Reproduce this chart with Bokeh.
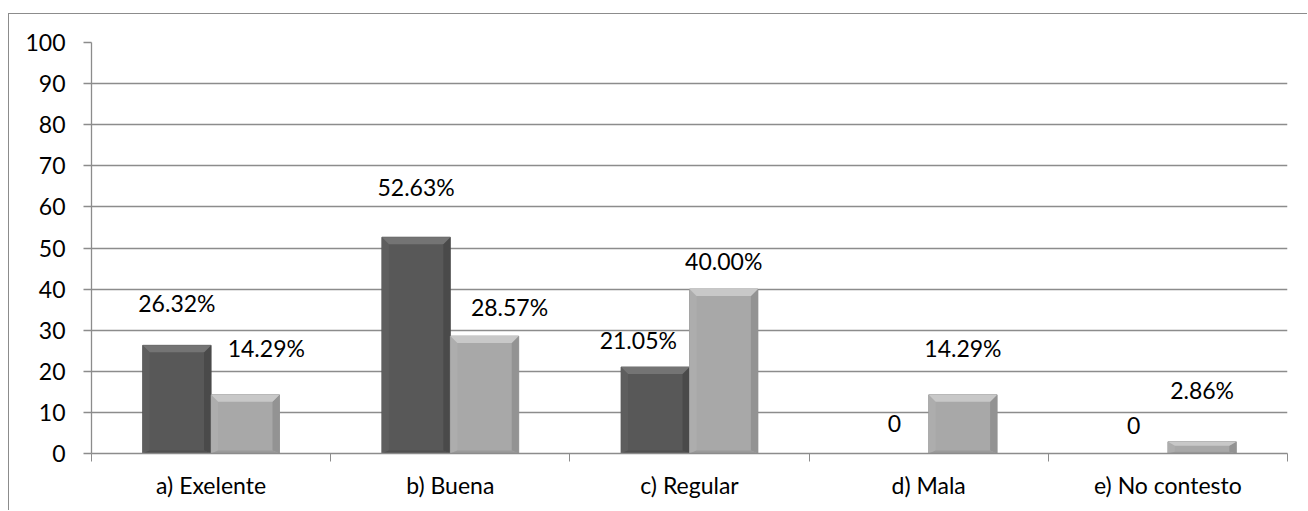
from bokeh.plotting import figure
from bokeh.models import FixedTicker, Range1d, ColumnDataSource
from bokeh.core.properties import value
from bokeh.embed import file_html
from bokeh.resources import INLINE

# ---------------- data ----------------
categories = ["a) Exelente", "b) Buena", "c) Regular", "d) Mala", "e) No contesto"]
serie_oscura = [26.32, 52.63, 21.05, 0, 0]
serie_clara = [14.29, 28.57, 40.00, 14.29, 2.86]
etiquetas_oscura = ["26.32%", "52.63%", "21.05%", "0", "0"]
etiquetas_clara = ["14.29%", "28.57%", "40.00%", "14.29%", "2.86%"]
y_ticks = list(range(0, 101, 10))

# ---------------- label offsets (pixels, style only) ----------------
dx_oscura = [0, 0, -17, 0, 0]
dy_oscura = [42, 50, 27, 30, 28]
dx_clara = [21, 25, 0, 0, 0]
dy_clara = [47, 29, 28, 47, 52]

FONT = "Lato"
FS = "23px"
GRID = "#8c8c8c"

n = len(categories)
centers = [i + 0.5 for i in range(n)]
bar_w = 0.286

p = figure(width=1299, height=497, x_range=Range1d(0, n), y_range=Range1d(0, 100),
           output_backend="svg", toolbar_location=None,
           min_border_left=82, min_border_right=21, min_border_top=28, min_border_bottom=58,
           outline_line_color=None, background_fill_color="white", border_fill_color="white")
p.styles = {"border-left": "1px solid #8c8c8c", "border-top": "1px solid #8c8c8c",
            "margin-top": "13px", "margin-left": "8px"}

# axes
p.xaxis.ticker = FixedTicker(ticks=centers, minor_ticks=list(range(n + 1)))
p.xaxis.major_label_overrides = {c: lab for c, lab in zip(centers, categories)}
p.xaxis.major_tick_line_color = None
p.xaxis.minor_tick_in = 0
p.xaxis.minor_tick_out = 8
p.xaxis.minor_tick_line_color = GRID
p.xaxis.axis_line_color = GRID
p.xaxis.axis_line_width = 1.3
p.xaxis.major_label_standoff = 9
p.xaxis.major_label_text_font = FONT
p.xaxis.major_label_text_font_size = FS
p.xaxis.major_label_text_color = "black"
p.xgrid.grid_line_color = None

p.yaxis.ticker = FixedTicker(ticks=y_ticks, minor_ticks=[])
p.yaxis.major_tick_in = 0
p.yaxis.major_tick_out = 8
p.yaxis.major_tick_line_color = GRID
p.yaxis.major_tick_line_width = 1.3
p.yaxis.axis_line_color = GRID
p.yaxis.axis_line_width = 1.3
p.yaxis.major_label_standoff = 18
p.yaxis.major_label_text_font = FONT
p.yaxis.major_label_text_font_size = FS
p.yaxis.major_label_text_color = "black"
p.ygrid.ticker = FixedTicker(ticks=y_ticks, minor_ticks=[])
p.ygrid.grid_line_color = GRID
p.ygrid.grid_line_width = 1.3

# bevel sizes in data units (approx 7px)
px_x = 1196 / n
px_y = 411 / 100.0
bx = 7 / px_x
by = 7 / px_y
bb = 3 / px_y


def draw_bars(xs, tops, body, top_c, left_c, right_c, bottom_c, edge):
    xs_f, tops_f = [], []
    for x, t in zip(xs, tops):
        if t > 0:
            xs_f.append(x)
            tops_f.append(t)
    p.vbar(x=xs_f, top=tops_f, width=bar_w, bottom=0, fill_color=body,
           line_color=edge, line_width=0.8)
    T, L, R, B = ([], []), ([], []), ([], []), ([], [])
    for x, t in zip(xs_f, tops_f):
        x0, x1 = x - bar_w / 2, x + bar_w / 2
        h = min(by, t * 0.35)
        hb = min(bb, t * 0.15)
        T[0].append([x0, x1, x1 - bx, x0 + bx]); T[1].append([t, t, t - h, t - h])
        L[0].append([x0, x0 + bx, x0 + bx, x0]); L[1].append([t, t - h, hb, 0])
        R[0].append([x1, x1 - bx, x1 - bx, x1]); R[1].append([t, t - h, hb, 0])
        B[0].append([x0, x1, x1 - bx, x0 + bx]); B[1].append([0, 0, hb, hb])
    p.patches(xs=L[0], ys=L[1], fill_color=left_c, line_color=None)
    p.patches(xs=R[0], ys=R[1], fill_color=right_c, line_color=None)
    p.patches(xs=B[0], ys=B[1], fill_color=bottom_c, line_color=None)
    p.patches(xs=T[0], ys=T[1], fill_color=top_c, line_color=None)


x_osc = [c - bar_w / 2 for c in centers]
x_cla = [c + bar_w / 2 for c in centers]

draw_bars(x_osc, serie_oscura, "#585858", "#747474", "#5e5e5e", "#4a4a4a", "#505050", "#4a4a4a")
draw_bars(x_cla, serie_clara, "#a8a8a8", "#c8c8c8", "#adadad", "#939393", "#9a9a9a", "#8e8e8e")

src_o = ColumnDataSource(dict(x=x_osc, y=serie_oscura, t=etiquetas_oscura,
                              dx=dx_oscura, dy=[-d for d in dy_oscura]))
src_c = ColumnDataSource(dict(x=x_cla, y=serie_clara, t=etiquetas_clara,
                              dx=dx_clara, dy=[-d for d in dy_clara]))
for s in (src_o, src_c):
    p.text(x="x", y="y", text="t", x_offset="dx", y_offset="dy", source=s,
           text_align="center", text_baseline="middle", text_font=value(FONT),
           text_font_size=FS, text_color="black")

open("out.html", "w").write(file_html(p, INLINE))
